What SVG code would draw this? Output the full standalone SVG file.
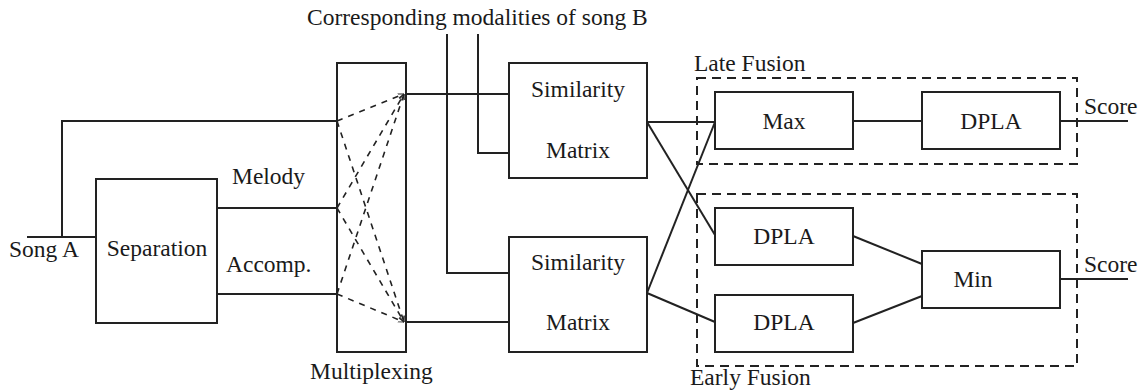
<svg xmlns="http://www.w3.org/2000/svg" width="1140" height="390" viewBox="0 0 1140 390">
<style>
text{font-family:'Liberation Serif',serif;font-size:23.5px;fill:#1a1a1a}
.box{fill:none;stroke:#222;stroke-width:2}
.ln{fill:none;stroke:#222;stroke-width:2}
.dash{fill:none;stroke:#222;stroke-width:1.6;stroke-dasharray:6 6}
.grp{fill:none;stroke:#222;stroke-width:2;stroke-dasharray:9 6}
.c{text-anchor:middle}
</style>
<defs>
<marker id="ah" viewBox="0 0 10 10" refX="10" refY="5" markerWidth="6" markerHeight="6" orient="auto" markerUnits="userSpaceOnUse">
<path d="M0,1 L10,5 L0,9" fill="none" stroke="#222" stroke-width="1.5"/>
</marker>
</defs>
<rect width="1140" height="390" fill="#fff"/>
<text x="307" y="25">Corresponding modalities of song B</text>
<text x="9" y="257">Song A</text>
<text x="232" y="184">Melody</text>
<text x="226" y="272">Accomp.</text>
<text x="310" y="379">Multiplexing</text>
<text x="694" y="71">Late Fusion</text>
<text x="690" y="385">Early Fusion</text>
<text x="1084" y="114">Score</text>
<text x="1084" y="272">Score</text>
<g id="separation"><rect class="box" x="96" y="179" width="121" height="144"/><text class="c" x="157" y="256">Separation</text></g>
<g id="multiplexing"><rect class="box" x="337" y="63" width="69" height="289"/></g>
<g id="sim1"><rect class="box" x="509" y="63" width="138" height="115"/><text class="c" x="578" y="97">Similarity</text><text class="c" x="578" y="158">Matrix</text></g>
<g id="sim2"><rect class="box" x="509" y="237" width="138" height="115"/><text class="c" x="578" y="270">Similarity</text><text class="c" x="578" y="330">Matrix</text></g>
<g id="late-fusion"><rect class="grp" x="697" y="78" width="380" height="86"/></g>
<g id="early-fusion"><rect class="grp" x="697" y="194" width="380" height="172"/></g>
<g id="max"><rect class="box" x="715" y="92" width="138" height="57"/><text class="c" x="784" y="129">Max</text></g>
<g id="dpla-late"><rect class="box" x="922" y="92" width="138" height="57"/><text class="c" x="991" y="129">DPLA</text></g>
<g id="dpla1"><rect class="box" x="715" y="208" width="138" height="57"/><text class="c" x="784" y="244">DPLA</text></g>
<g id="dpla2"><rect class="box" x="715" y="295" width="138" height="57"/><text class="c" x="784" y="330">DPLA</text></g>
<g id="min"><rect class="box" x="922" y="251" width="138" height="57"/><text class="c" x="973" y="287">Min</text></g>
<g id="connectors">
<path class="ln" d="M27,237 H96"/>
<path class="ln" d="M62,237 V121 H337"/>
<path class="ln" d="M217,208 H337"/>
<path class="ln" d="M217,294 H337"/>
<path class="dash" d="M337,121 L404,94" marker-end="url(#ah)"/>
<path class="dash" d="M337,208 L404,94" marker-end="url(#ah)"/>
<path class="dash" d="M337,294 L404,94" marker-end="url(#ah)"/>
<path class="dash" d="M337,121 L404,322" marker-end="url(#ah)"/>
<path class="dash" d="M337,208 L404,322" marker-end="url(#ah)"/>
<path class="dash" d="M337,294 L404,322" marker-end="url(#ah)"/>
<path class="ln" d="M406,94 H509"/>
<path class="ln" d="M406,322 H509"/>
<path class="ln" d="M447,34 V273 H509"/>
<path class="ln" d="M478,34 V153 H509"/>
<path class="ln" d="M647,122 H715"/>
<path class="ln" d="M647,122 L715,235"/>
<path class="ln" d="M647,293 L715,122"/>
<path class="ln" d="M647,293 L715,322"/>
<path class="ln" d="M853,121 H922"/>
<path class="ln" d="M1060,121 H1128"/>
<path class="ln" d="M853,236 L922,264"/>
<path class="ln" d="M853,323 L922,296"/>
<path class="ln" d="M1060,279 H1128"/>
</g>
</svg>
